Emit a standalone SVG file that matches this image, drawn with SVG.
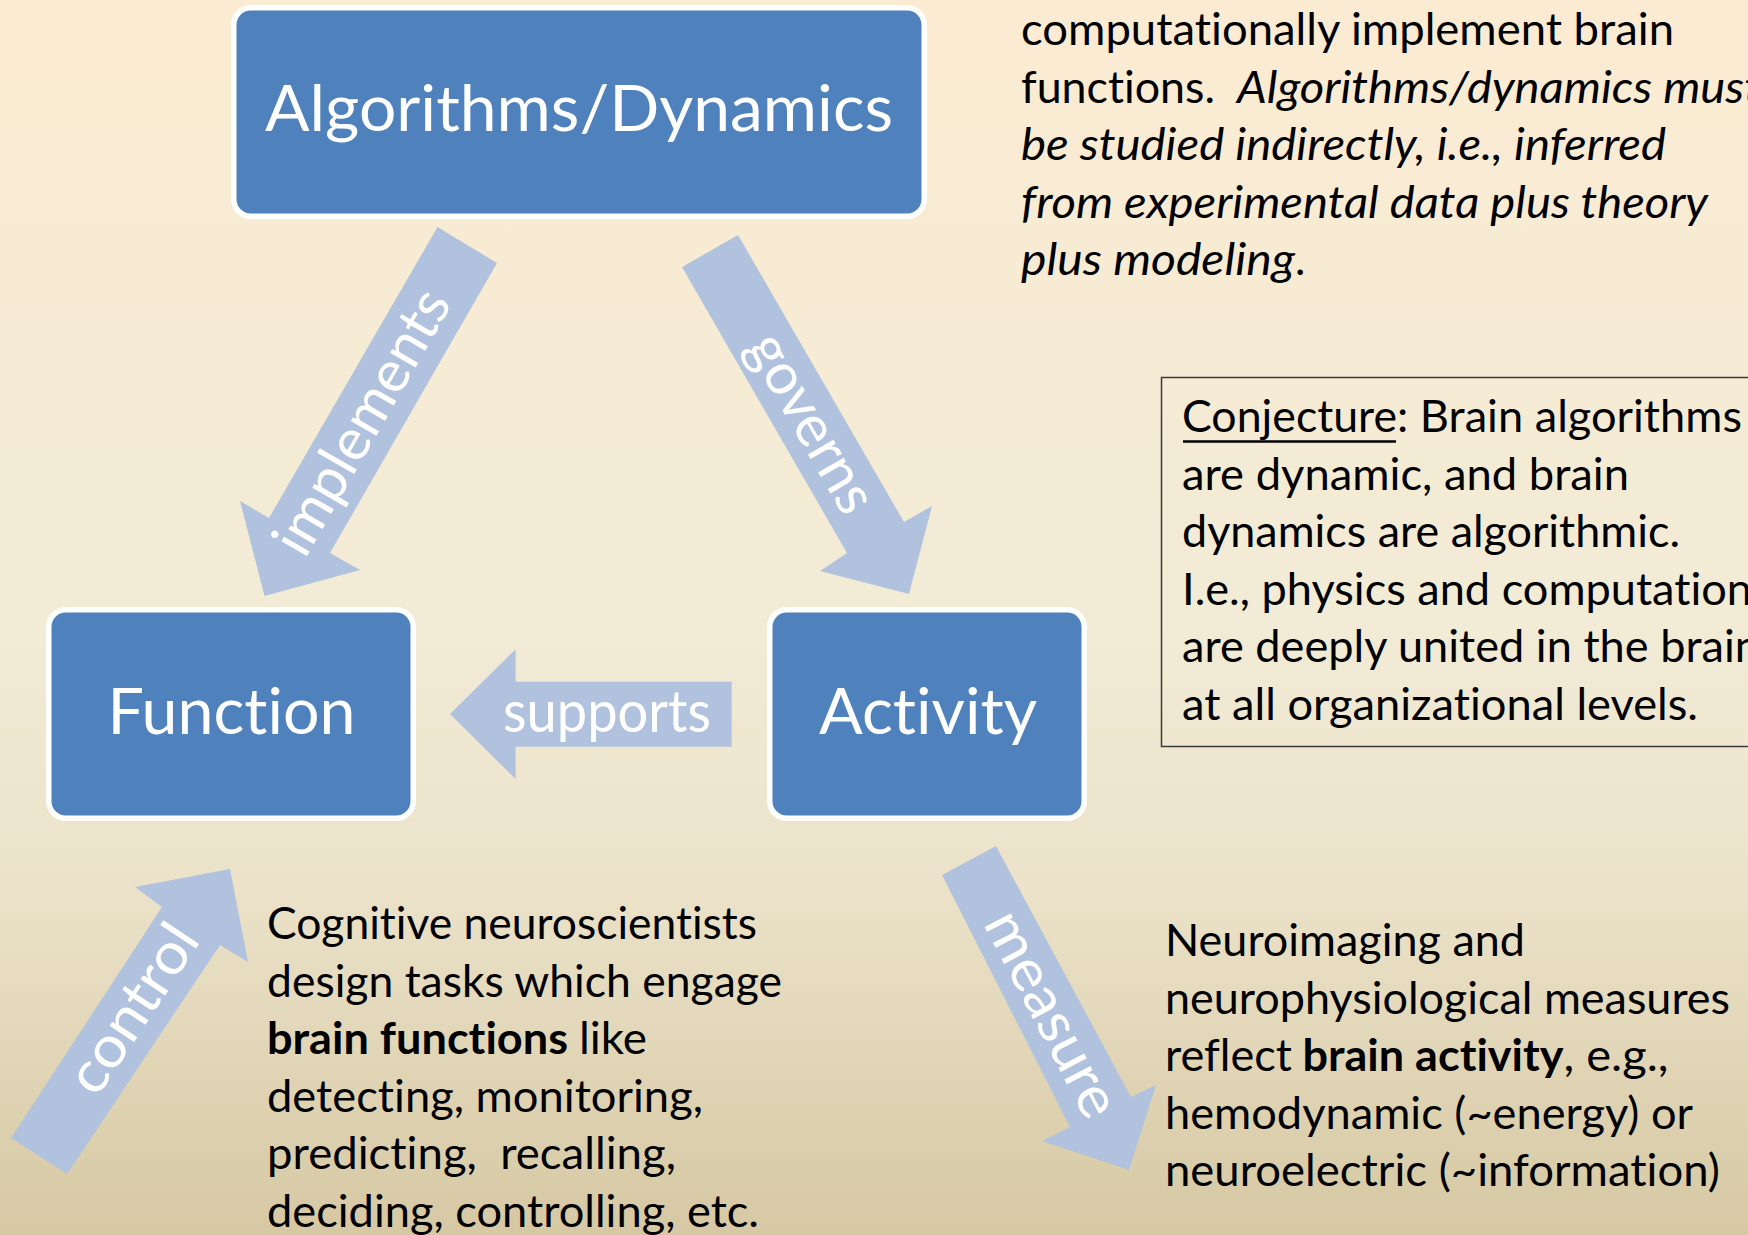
<svg xmlns="http://www.w3.org/2000/svg" width="1748" height="1235" viewBox="0 0 1748 1235">
  <defs>
    <linearGradient id="bg" x1="0" y1="0" x2="0" y2="1">
      <stop offset="0" stop-color="#FCEBD3"/>
      <stop offset="0.5" stop-color="#F2EBD6"/>
      <stop offset="0.72" stop-color="#EBE2C9"/>
      <stop offset="1" stop-color="#D6C8A3"/>
    </linearGradient>
    <style>
      text { font-variant-ligatures: none; font-feature-settings: "liga" 0, "clig" 0; }
      .node rect { fill: #4F81BD; stroke: #FFFFFF; stroke-width: 5.5; }
      .node text { font-family: Lato, "Liberation Sans", sans-serif; font-size: 63px; fill: #FFFFFF; text-anchor: middle; }
      .arrow { fill: #B0C2DE; }
      .alabel { font-family: Lato, "Liberation Sans", sans-serif; font-size: 58px; fill: #FFFFFF; text-anchor: middle; }
      .note { font-family: Lato, "Liberation Sans", sans-serif; font-size: 44px; fill: #000000; white-space: pre; }
      .it { font-style: italic; }
      .b { font-weight: bold; }
    </style>
  </defs>

  <!-- background -->
  <rect x="0" y="0" width="1748" height="1235" fill="url(#bg)"/>

  <!-- block-arrow connectors with their labels -->
  <g id="connectors">
    <g id="edge-implements">
      <polygon class="arrow" points="437.5,227 497,263 330,553 360,570 264.5,596 240,501 269,518"/>
      <text class="alabel" transform="translate(364,423) rotate(-60)" x="0" y="17" textLength="296" lengthAdjust="spacingAndGlyphs">implements</text>
    </g>
    <g id="edge-governs">
      <polygon class="arrow" points="738,235 904,522 932,506 909,594 820,571 847,553 682,267"/>
      <text class="alabel" transform="translate(810,424) rotate(60)" x="0" y="17" textLength="198" lengthAdjust="spacingAndGlyphs">governs</text>
    </g>
    <g id="edge-supports">
      <polygon class="arrow" points="450,714 515.6,649.3 515.6,681.7 731.7,681.7 731.7,746.7 515.6,746.7 515.6,779"/>
      <text class="alabel" x="607" y="731.7" textLength="208" lengthAdjust="spacingAndGlyphs">supports</text>
    </g>
    <g id="edge-control">
      <polygon class="arrow" points="11,1138 162,907 135,887 230,869 248,962 220,945 67,1174"/>
      <text class="alabel" transform="translate(135,1010) rotate(-56.5)" x="0" y="17" textLength="190" lengthAdjust="spacingAndGlyphs">control</text>
    </g>
    <g id="edge-measure">
      <polygon class="arrow" points="996,846 1131,1097 1156,1085 1129,1170 1042,1141 1070,1127 942,875"/>
      <text class="alabel" transform="translate(1050,1015) rotate(62.4)" x="0" y="17" textLength="225" lengthAdjust="spacingAndGlyphs">measure</text>
    </g>
  </g>

  <!-- nodes -->
  <g id="node-algorithms" class="node">
    <rect x="233.75" y="7.75" width="690.5" height="208.5" rx="17" ry="17"/>
    <text x="579" y="131" textLength="628" lengthAdjust="spacingAndGlyphs">Algorithms/Dynamics</text>
  </g>
  <g id="node-function" class="node">
    <rect x="48.75" y="609.75" width="364.5" height="208.5" rx="17" ry="17"/>
    <text x="231.5" y="734" textLength="248" lengthAdjust="spacingAndGlyphs">Function</text>
  </g>
  <g id="node-activity" class="node">
    <rect x="769.75" y="609.75" width="314.5" height="208.5" rx="17" ry="17"/>
    <text x="928" y="734" textLength="218" lengthAdjust="spacingAndGlyphs">Activity</text>
  </g>

  <!-- note: algorithms / dynamics -->
  <g id="note-algorithms">
    <text class="note" x="1021" y="45" textLength="653" lengthAdjust="spacingAndGlyphs">computationally implement brain</text>
    <text class="note" x="1021" y="102.5" textLength="194" lengthAdjust="spacingAndGlyphs">functions.</text>
    <text class="note it" x="1237" y="102.5" textLength="524" lengthAdjust="spacingAndGlyphs">Algorithms/dynamics must</text>
    <text class="note it" x="1021" y="160" textLength="645" lengthAdjust="spacingAndGlyphs">be studied indirectly, i.e., inferred</text>
    <text class="note it" x="1021" y="217.5" textLength="687" lengthAdjust="spacingAndGlyphs">from experimental data plus theory</text>
    <text class="note it" x="1021" y="275" textLength="274" lengthAdjust="spacingAndGlyphs">plus modeling</text>
    <text class="note" x="1295" y="275">.</text>
  </g>

  <!-- note: conjecture box -->
  <g id="note-conjecture">
    <rect x="1161.5" y="377.5" width="700" height="369" fill="none" stroke="#3A3A3A" stroke-width="1.5"/>
    <text class="note" x="1182" y="432" textLength="215" lengthAdjust="spacingAndGlyphs">Conjecture</text>
    <line x1="1183" y1="441.5" x2="1396" y2="441.5" stroke="#000000" stroke-width="2.5"/>
    <text class="note" x="1397" y="432" textLength="345" lengthAdjust="spacingAndGlyphs">: Brain algorithms</text>
    <text class="note" x="1182" y="489.5" textLength="447" lengthAdjust="spacingAndGlyphs">are dynamic, and brain</text>
    <text class="note" x="1182" y="547" textLength="498" lengthAdjust="spacingAndGlyphs">dynamics are algorithmic.</text>
    <text class="note" x="1182" y="604.5" textLength="570" lengthAdjust="spacingAndGlyphs">I.e., physics and computation</text>
    <text class="note" x="1182" y="662" textLength="578" lengthAdjust="spacingAndGlyphs">are deeply united in the brain</text>
    <text class="note" x="1182" y="719.5" textLength="516" lengthAdjust="spacingAndGlyphs">at all organizational levels.</text>
  </g>

  <!-- note: cognitive neuroscience -->
  <g id="note-function">
    <text class="note" x="267" y="939" textLength="490" lengthAdjust="spacingAndGlyphs">Cognitive neuroscientists</text>
    <text class="note" x="267" y="996.5" textLength="515" lengthAdjust="spacingAndGlyphs">design tasks which engage</text>
    <text class="note b" x="267" y="1054" textLength="301" lengthAdjust="spacingAndGlyphs">brain functions</text>
    <text class="note" x="579" y="1054" textLength="68" lengthAdjust="spacingAndGlyphs">like</text>
    <text class="note" x="267" y="1111.5" textLength="436" lengthAdjust="spacingAndGlyphs">detecting, monitoring,</text>
    <text class="note" x="267" y="1169" textLength="409" lengthAdjust="spacingAndGlyphs">predicting,  recalling,</text>
    <text class="note" x="267" y="1226.5" textLength="492" lengthAdjust="spacingAndGlyphs">deciding, controlling, etc.</text>
  </g>

  <!-- note: neuroimaging -->
  <g id="note-activity">
    <text class="note" x="1165" y="956" textLength="360" lengthAdjust="spacingAndGlyphs">Neuroimaging and</text>
    <text class="note" x="1165" y="1013.5" textLength="565" lengthAdjust="spacingAndGlyphs">neurophysiological measures</text>
    <text class="note" x="1165" y="1071" textLength="127" lengthAdjust="spacingAndGlyphs">reflect</text>
    <text class="note b" x="1302.5" y="1071" textLength="261" lengthAdjust="spacingAndGlyphs">brain activity</text>
    <text class="note" x="1563.5" y="1071" textLength="105" lengthAdjust="spacingAndGlyphs">, e.g.,</text>
    <text class="note" x="1165" y="1128.5" textLength="528" lengthAdjust="spacingAndGlyphs">hemodynamic (~energy) or</text>
    <text class="note" x="1165" y="1186" textLength="555" lengthAdjust="spacingAndGlyphs">neuroelectric (~information)</text>
  </g>
</svg>
